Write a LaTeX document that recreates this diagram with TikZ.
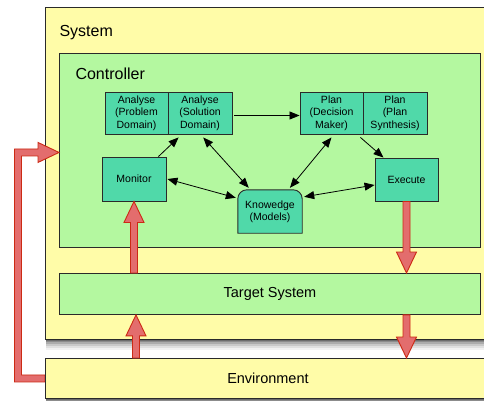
\documentclass[tikz,border=0pt]{standalone}
\usepackage{fontspec}
\setmainfont{Liberation Sans}
\usetikzlibrary{arrows.meta,calc}
\definecolor{sysyellow}{HTML}{FFFCA8}
\definecolor{ctrlgreen}{HTML}{B4F8A0}
\definecolor{nodeteal}{HTML}{50D9A9}
\definecolor{fatfill}{HTML}{E36D6D}
\definecolor{fatedge}{HTML}{CC2A14}
\definecolor{edgegray}{HTML}{2A2A2A}
\newcommand\fatvert[3]{%
  \filldraw[fatarrow] ($(#1)+(-3.5,0)$) -- ($(#2)+(-3.5,#3)$) -- ($(#2)+(-10,#3)$) -- (#2)
    -- ($(#2)+(10,#3)$) -- ($(#2)+(3.5,#3)$) -- ($(#1)+(3.5,0)$) -- cycle;}
\newcommand\softshadow[1]{%
  \foreach \s/\o in {1/0.22,2.5/0.18,4/0.14,6/0.1,8/0.07,10/0.05}{
    \fill[black,opacity=\o] ($(#1.north west)+(0.5,\s)$) rectangle ($(#1.south east)+(0.5,\s)$);}}
\begin{document}
\begin{tikzpicture}[x=1pt,y=-1pt,
  region/.style={draw=edgegray, line width=0.9pt, anchor=north west, inner sep=0pt},
  title/.style={anchor=base west, font=\fontsize{16}{19}\selectfont},
  biglabel/.style={font=\fontsize{14.5}{17}\selectfont},
  box/.style={draw=edgegray, fill=nodeteal, line width=0.9pt, inner sep=0pt, align=center,
    font=\fontsize{10.5}{12.3}\selectfont},
  conn/.style={-{Triangle[length=10pt,width=8pt]}, line width=0.8pt},
  bidir/.style={{Triangle[length=10pt,width=8pt]}-{Triangle[length=10pt,width=8pt]}, line width=0.8pt},
  fatarrow/.style={fill=fatfill, draw=fatedge, line width=0.9pt, line join=miter}]
\useasboundingbox (0,0) rectangle (484,401);
\fill[white] (0,0) rectangle (484,401);

% regions
\node[region, minimum width=445pt, minimum height=332pt] (sys) at (45,7) {};
\softshadow{sys}
\node[region, fill=sysyellow, minimum width=445pt, minimum height=332pt] (sysbox) at (45,7) {};
\node[title] (syslbl) at (56,37) {System};
\node[region, fill=ctrlgreen, minimum width=421pt, minimum height=194pt] (ctrl) at (59,53) {};
\node[title] (ctrllbl) at (72,80) {Controller};
\node[region, fill=ctrlgreen, minimum width=421pt, minimum height=41pt] (tgt) at (59,273) {};
\node[biglabel] (tgtlbl) at (tgt.center) {Target System};

% loop arrow from environment back to controller
\coordinate (ctip) at ($(ctrl.west)+(0,2)$);
\coordinate (lx) at (18,0);
\node[region, minimum width=445pt, minimum height=40pt] (envsh) at (45,358) {};
\softshadow{envsh}
\filldraw[fatarrow]
  ($(envsh.west)+(0,-3.5)$) -- ($(lx |- envsh.west)+(3.5,-3.5)$) -- ($(lx |- ctip)+(3.5,3.5)$)
  -- ($(ctip)+(-21,3.5)$) -- ($(ctip)+(-21,10)$) -- (ctip) -- ($(ctip)+(-21,-10)$)
  -- ($(ctip)+(-21,-3.5)$) -- ($(lx |- ctip)+(-3.5,-3.5)$) -- ($(lx |- envsh.west)+(-3.5,3.5)$)
  -- ($(envsh.west)+(0,3.5)$) -- cycle;
\node[region, fill=sysyellow, minimum width=445pt, minimum height=40pt] (env) at (45,358) {};
\node[biglabel] (envlbl) at (env.center) {Environment};

% controller components
\node[box, minimum width=63pt, minimum height=42pt] (a1) at (136.5,113) {Analyse\\(Problem\\Domain)};
\node[box, minimum width=64pt, minimum height=42pt] (a2) at (200,113) {Analyse\\(Solution\\Domain)};
\node[box, minimum width=63pt, minimum height=42pt] (p1) at (331.5,113) {Plan\\(Decision\\Maker)};
\node[box, minimum width=64pt, minimum height=42pt] (p2) at (395,113) {Plan\\(Plan\\Synthesis)};
\node[box, minimum width=64pt, minimum height=44pt] (mon) at (134,179) {Monitor};
\node[box, minimum width=63pt, minimum height=43pt] (exe) at (406.5,179.5) {Execute};
\node[draw=none, fill=none, inner sep=0pt, minimum width=64pt, minimum height=43pt] (know) at (270,211.5) {};
\filldraw[fill=nodeteal, draw=edgegray, line width=0.9pt]
  (know.south west) -- ($(know.north west)+(0,9)$) arc[start angle=180, end angle=90, radius=9pt]
  -- ($(know.north east)+(-9,0)$) arc[start angle=90, end angle=0, radius=9pt]
  -- (know.south east) -- cycle;
\node[align=center, font=\fontsize{10.5}{12.3}\selectfont, inner sep=0pt] (knowtxt) at (know.center) {Knowedge\\(Models)};

% black connectors
\draw[conn] ($(a2.east)+(2,2.5)$) -- ($(p1.west)+(0,2.5)$);
\draw[conn] ($(mon.north east)+(-8,0)$) -- ($(a2.south west)+(11,3)$);
\draw[bidir] ($(a2.south west)!0.55!(a2.south east)+(0,3)$) -- ($(know.north west)!0.17!(know.north east)+(0,-2)$);
\draw[bidir] ($(p1.south)+(0,3)$) -- ($(know.north west)!0.81!(know.north east)+(0,-2)$);
\draw[conn] ($(p1.south east)+(-3,3)$) -- ($(exe.north west)!0.14!(exe.north east)$);
\draw[bidir] ($(mon.east)+(1,0)$) -- ($(know.north west)+(-2,8)$);
\draw[bidir] ($(know.north east)+(2,7)$) -- ($(exe.west)+(0,5.5)$);

% fat red arrows
\coordinate (tm) at (mon.south |- tgt.north);
\fatvert{tm}{mon.south}{21}
\coordinate (ex) at (136,0);
\coordinate (et1) at (ex |- env.north);
\coordinate (et2) at (ex |- tgt.south);
\fatvert{et1}{et2}{21}
\coordinate (xt) at (exe.south |- tgt.north);
\fatvert{exe.south}{xt}{-21}
\coordinate (te1) at (exe.south |- tgt.south);
\coordinate (te2) at (exe.south |- env.north);
\fatvert{te1}{te2}{-21}
\end{tikzpicture}
\end{document}
